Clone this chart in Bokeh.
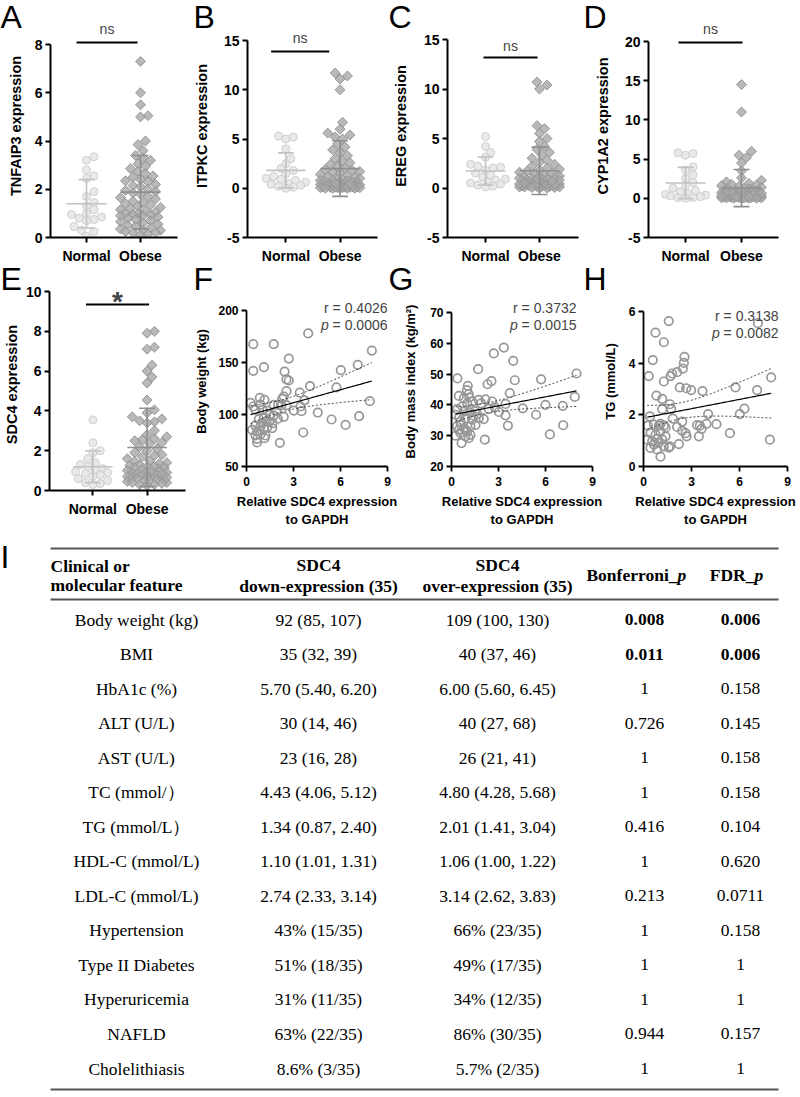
import numpy as np
from bokeh.plotting import figure
from bokeh.layouts import row, column
from bokeh.models import Range1d, FixedTicker, Label
from bokeh.core.properties import value
from bokeh.embed import file_html
from bokeh.resources import INLINE

SANS = "Liberation Sans"
SERIF = "Liberation Serif"

# ---------------------------------------------------------------------------
# Expression data (relative to GAPDH), Normal vs Obese
# ---------------------------------------------------------------------------
groups = ["Normal", "Obese"]

tnfaip3_normal = [3.35, 3.2, 2.8, 2.55, 2.45, 1.9, 1.7, 1.45, 1.3, 1.15, 1.0, 0.95,
                  0.85, 0.8, 0.75, 0.7, 0.45, 0.3, 0.25, 0.05]
tnfaip3_obese = [7.3, 6.0, 5.5, 5.05, 5.0, 4.0, 3.85, 3.6, 3.4, 3.3, 3.2, 3.05, 2.95,
                 2.85, 2.75, 2.65, 2.55, 2.5, 2.4, 2.35, 2.3, 2.2, 2.15, 2.1, 2.0, 1.95,
                 1.9, 1.85, 1.8, 1.7, 1.65, 1.6, 1.5, 1.45, 1.4, 1.35, 1.3, 1.25, 1.2,
                 1.15, 1.1, 1.05, 1.0, 1.0, 0.95, 0.95, 0.9, 0.9, 0.85, 0.8, 0.75, 0.7,
                 0.65, 0.6, 0.55, 0.5, 0.45, 0.4, 0.35, 0.3, 0.3, 0.25, 0.2, 0.2, 0.15, 0.1]

itpkc_normal = [5.3, 5.2, 5.0, 4.0, 3.0, 2.5, 2.0, 1.8, 1.5, 1.2, 1.0, 0.9, 0.8, 0.6,
                0.5, 0.4, 0.3, 0.2, 0.1, 0.0]
itpkc_obese = [11.7, 11.4, 11.1, 10.0, 6.7, 6.0, 5.6, 5.4, 5.2, 5.0, 4.5, 4.2, 3.9, 3.6,
               3.3, 3.0, 2.8, 2.6, 2.4, 2.2, 2.0, 1.9, 1.8, 1.7, 1.6, 1.5, 1.4, 1.3, 1.2,
               1.1, 1.0, 0.95, 0.9, 0.85, 0.8, 0.75, 0.7, 0.65, 0.6, 0.55, 0.5, 0.45, 0.4,
               0.35, 0.3, 0.3, 0.25, 0.25, 0.2, 0.2, 0.15, 0.15, 0.1, 0.1, 0.1, 0.05, 0.05,
               0.05, 0.0, 0.0, 0.0, 0.0, 0.0, 0.05, 0.1, 0.15, 0.2, 0.3, 0.4, 0.5]

ereg_normal = [5.2, 4.2, 3.6, 3.1, 2.4, 2.1, 2.2, 2.0, 1.8, 1.5, 1.3, 1.1, 0.9, 0.8,
               0.6, 0.5, 0.4, 0.3, 0.2, 0.1]
ereg_obese = [10.7, 10.4, 10.0, 6.3, 6.0, 5.5, 5.0, 4.7, 4.2, 3.9, 3.6, 3.3, 3.0, 2.8,
              2.6, 2.4, 2.2, 2.0, 1.9, 1.8, 1.7, 1.6, 1.5, 1.4, 1.3, 1.2, 1.1, 1.0, 0.95,
              0.9, 0.85, 0.8, 0.75, 0.7, 0.65, 0.6, 0.55, 0.5, 0.45, 0.4, 0.35, 0.3, 0.3,
              0.25, 0.25, 0.2, 0.2, 0.15, 0.15, 0.1, 0.1, 0.1, 0.05, 0.05, 0.0, 0.0, 0.2,
              0.3, 0.4, 0.5, 0.6, 0.8, 1.0, 1.2, 0.15, 0.25, 0.35, 0.45, 0.7, 0.9]

cyp1a2_normal = [5.8, 5.7, 5.5, 4.0, 3.6, 3.0, 2.5, 2.0, 1.6, 1.3, 1.0, 0.8, 0.6, 0.5,
                 0.4, 0.3, 0.2, 0.1, 0.0, 0.1]
cyp1a2_obese = [14.5, 11.0, 6.0, 5.5, 5.2, 4.5, 3.5, 2.6, 2.3, 2.1, 1.9, 1.8, 1.7, 1.6,
                1.5, 1.4, 1.3, 1.2, 1.1, 1.0, 0.95, 0.9, 0.85, 0.8, 0.75, 0.7, 0.65, 0.6,
                0.55, 0.5, 0.45, 0.4, 0.35, 0.3, 0.3, 0.25, 0.25, 0.2, 0.2, 0.15, 0.15,
                0.1, 0.1, 0.1, 0.05, 0.05, 0.05, 0.0, 0.0, 0.0, 0.6, 0.5, 0.4, 0.3, 0.2,
                0.15, 0.1, 0.7, 0.8, 0.9, 1.0, 0.35, 0.45, 0.55, 0.65, 0.75, 0.05, 0.0,
                0.2, 0.3]

sdc4_normal = [3.55, 2.4, 2.0, 1.9, 1.6, 1.4, 1.3, 1.2, 1.1, 1.0, 0.95, 0.9, 0.85, 0.8,
               0.7, 0.6, 0.5, 0.4, 0.35, 0.3]
sdc4_obese = [8.0, 7.9, 7.2, 7.1, 6.3, 6.0, 5.7, 5.4, 4.55, 4.05, 3.9, 3.7, 3.6, 3.5,
              3.45, 3.4, 3.0, 2.8, 2.7, 2.6, 2.55, 2.5, 2.4, 2.35, 2.2, 2.1, 2.0, 1.9,
              1.8, 1.75, 1.7, 1.6, 1.5, 1.45, 1.4, 1.3, 1.25, 1.2, 1.15, 1.1, 1.05, 1.0,
              0.95, 0.9, 0.85, 0.8, 0.8, 0.75, 0.7, 0.7, 0.65, 0.6, 0.6, 0.55, 0.5, 0.5,
              0.45, 0.4, 0.4, 0.35, 0.3, 0.3, 0.25, 1.35, 1.15, 0.9, 1.0, 0.65, 1.2, 0.85]

# ---------------------------------------------------------------------------
# Correlation data: SDC4 expression vs clinical traits
# ---------------------------------------------------------------------------
bw_sdc4 = [3.94, 0.43, 1.74, 2.70, 1.11, 0.43, 2.43, 2.55, 2.70, 8.00, 7.10, 6.02, 5.74,
           4.06, 3.40, 2.55, 2.38, 2.28, 3.70, 7.87, 0.26, 0.43, 0.85, 1.15, 0.89, 1.74,
           2.02, 2.21, 2.55, 3.02, 3.45, 3.51, 2.38, 0.57, 1.02, 1.32, 1.49, 1.74, 1.11,
           0.79, 1.28, 1.66, 0.57, 0.89, 1.32, 1.64, 0.36, 0.68, 1.11, 0.57, 0.89, 1.21,
           0.68, 1.15, 0.68, 2.13, 3.62, 4.55, 5.43, 6.32, 7.19, 1.90, 2.00, 1.45, 1.00]
body_weight = [178, 167.6, 167.6, 153.8, 145.5, 142, 141.3, 133.7, 132.7, 161.5, 147.8,
               142.6, 126, 127.2, 121, 122.4, 117.3, 115, 113.5, 112.8, 111.2, 107.7, 116,
               114.1, 109.6, 109.3, 109.3, 108.7, 109, 103.8, 107.7, 103.2, 97.8, 104.5,
               104.5, 103.8, 99.7, 99, 96.8, 95.5, 93.6, 91.7, 89.4, 88.5, 87.8, 86.9,
               85.3, 84, 86.2, 79.8, 80.8, 79.8, 76.6, 77.2, 73.1, 72.8, 82.7, 101.9, 95.2,
               90, 98.4, 103, 96, 93, 92]

bmi_sdc4 = [3.34, 2.70, 3.94, 1.70, 0.38, 7.98, 5.72, 4.04, 2.55, 2.30, 1.04, 0.98, 1.10,
            0.47, 0.79, 1.15, 3.72, 7.87, 1.74, 2.17, 2.60, 1.32, 1.00, 3.45, 6.00, 7.10,
            4.55, 2.38, 2.77, 3.02, 0.36, 0.79, 1.21, 0.26, 5.40, 3.45, 1.74, 2.06, 0.89,
            1.32, 0.57, 3.60, 7.13, 1.21, 1.53, 0.79, 0.47, 1.00, 0.57, 0.26, 6.28, 0.89,
            1.21, 2.13, 0.64, 1.10, 0.70, 1.50, 0.60, 1.40, 0.90, 0.50, 1.90, 0.35, 1.65]
bmi = [58.6, 56.7, 54.3, 51.6, 48.6, 50.2, 48.3, 48.0, 47.7, 46.7, 46.2, 44.8, 43.5, 42.9,
       42.2, 42.4, 43.8, 42.6, 41.6, 41.8, 41.1, 41.1, 40.5, 40.3, 40.0, 39.7, 38.9, 38.7,
       39.2, 37.7, 38.6, 37.8, 37.5, 36.8, 36.8, 36.6, 35.7, 35.4, 35.7, 35.2, 34.6, 33.3,
       33.4, 33.0, 33.5, 32.5, 31.9, 31.4, 30.9, 30.0, 30.4, 29.8, 30.3, 28.7, 27.6, 29.2,
       39.5, 38.0, 33.5, 36.5, 31.8, 36.0, 40.5, 33.0, 37.0]

tg_sdc4 = [1.58, 7.15, 0.75, 1.27, 0.58, 2.56, 2.52, 2.46, 2.10, 1.79, 1.69, 0.33, 1.27,
           2.27, 2.67, 2.98, 3.69, 5.75, 7.10, 7.98, 0.81, 1.17, 1.65, 1.17, 1.73, 6.31,
           6.02, 4.04, 0.40, 1.83, 2.42, 0.27, 0.65, 0.96, 1.27, 1.38, 1.06, 2.10, 2.42,
           2.63, 3.35, 3.63, 3.94, 4.56, 3.52, 2.69, 3.46, 5.40, 7.90, 0.44, 0.75, 1.06,
           1.38, 0.23, 0.54, 0.85, 1.17, 0.65, 0.96, 0.44, 1.27, 1.65, 2.21, 0.85, 1.06, 1.58]
tg = [5.63, 5.55, 5.18, 4.81, 4.12, 4.24, 4.01, 3.79, 3.65, 3.60, 3.50, 3.50, 3.29, 3.06,
      3.03, 2.96, 2.92, 3.06, 2.96, 3.45, 2.74, 2.62, 2.41, 2.22, 2.22, 2.24, 2.03, 2.03,
      1.94, 1.85, 1.74, 1.58, 1.62, 1.58, 1.58, 1.51, 1.65, 1.53, 1.38, 1.29, 1.60, 1.46,
      1.65, 1.64, 1.58, 1.17, 1.17, 1.29, 1.04, 1.29, 1.23, 1.36, 1.17, 1.04, 0.97, 1.06,
      1.04, 0.85, 0.91, 0.72, 0.78, 0.78, 0.87, 0.66, 0.38, 0.73]

# ---------------------------------------------------------------------------
# Clinical table
# ---------------------------------------------------------------------------
features = ["Body weight (kg)", "BMI", "HbA1c (%)", "ALT (U/L)", "AST (U/L)",
            "TC (mmol/）", "TG (mmol/L）", "HDL-C (mmol/L)", "LDL-C (mmol/L)",
            "Hypertension", "Type II Diabetes", "Hyperuricemia", "NAFLD", "Cholelithiasis"]
sdc4_down = ["92 (85, 107)", "35 (32, 39)", "5.70 (5.40, 6.20)", "30 (14, 46)",
             "23 (16, 28)", "4.43 (4.06, 5.12)", "1.34 (0.87, 2.40)", "1.10 (1.01, 1.31)",
             "2.74 (2.33, 3.14)", "43% (15/35)", "51% (18/35)", "31% (11/35)",
             "63% (22/35)", "8.6% (3/35)"]
sdc4_over = ["109 (100, 130)", "40 (37, 46)", "6.00 (5.60, 6.45)", "40 (27, 68)",
             "26 (21, 41)", "4.80 (4.28, 5.68)", "2.01 (1.41, 3.04)", "1.06 (1.00, 1.22)",
             "3.14 (2.62, 3.83)", "66% (23/35)", "49% (17/35)", "34% (12/35)",
             "86% (30/35)", "5.7% (2/35)"]
bonferroni_p = ["0.008", "0.011", "1", "0.726", "1", "1", "0.416", "1", "0.213", "1",
                "1", "1", "0.944", "1"]
fdr_p = ["0.006", "0.006", "0.158", "0.145", "0.158", "0.158", "0.104", "0.620",
         "0.0711", "0.158", "1", "1", "0.157", "1"]
significant_rows = [0, 1]

panel_letters = ["A", "B", "C", "D", "E", "F", "G", "H"]

T95 = 2.0  # two-sided 95% t quantile for ~65 points


# ---------------------------------------------------------------------------
# helpers
# ---------------------------------------------------------------------------
class Geom:
    """Maps page pixels of one panel onto its data ranges."""

    def __init__(self, fig, frame, xref, yref):
        self.fx, self.fy, self.w, self.h = fig
        self.l, self.r, self.t, self.b = frame
        (xv0, xp0), (xv1, xp1) = xref
        (yv0, yp0), (yv1, yp1) = yref
        self.sx = (xp1 - xp0) / (xv1 - xv0)
        self.sy = (yp0 - yp1) / (yv1 - yv0)
        self.x0 = xv0 - (xp0 - self.l) / self.sx
        self.x1 = xv1 + (self.r - xp1) / self.sx
        self.y0 = yv0 - (self.b - yp0) / self.sy
        self.y1 = yv1 + (yp1 - self.t) / self.sy

    def dx(self, px):
        return self.x0 + (px - self.l) / self.sx

    def dy(self, py):
        return self.y1 - (py - self.t) / self.sy


def make_fig(g, shift=0):
    p = figure(width=g.w, height=g.h,
               x_range=Range1d(g.x0, g.x1), y_range=Range1d(g.y0, g.y1),
               toolbar_location=None, output_backend="svg",
               min_border_left=g.l - g.fx, min_border_right=g.fx + g.w - g.r,
               min_border_top=g.t - g.fy, min_border_bottom=g.fy + g.h - g.b)
    p.background_fill_color = None
    p.border_fill_color = None
    p.outline_line_color = None
    p.grid.visible = False
    if shift:
        p.margin = (0, 0, 0, shift)
    return p


def style_axes(p, tick_size, label_size, width):
    for ax in p.axis:
        ax.axis_line_width = width
        ax.axis_line_color = "black"
        ax.major_tick_line_width = width
        ax.major_tick_line_color = "black"
        ax.major_tick_out = 5
        ax.major_tick_in = 0
        ax.minor_tick_line_color = None
        ax.major_label_text_font = SANS
        ax.major_label_text_font_style = "bold"
        ax.major_label_text_font_size = tick_size
        ax.major_label_text_color = "black"
        ax.axis_label_text_font = SANS
        ax.axis_label_text_font_style = "bold"
        ax.axis_label_text_font_size = label_size
        ax.axis_label_text_color = "black"


def swarm_px(vals, sy, step=2.5, min_d=7.0, half=21.0):
    v = np.asarray(vals, float)
    ks = [0.0]
    k = 1
    while k * step <= half:
        ks += [k * step, -k * step]
        k += 1
    px_, py_ = [], []
    out = np.zeros(len(v))
    for i in np.argsort(v, kind="stable"):
        y = v[i] * sy
        best, best_d = 0.0, -1.0
        for x in ks:
            if px_:
                d = float(np.min(np.hypot(np.array(px_) - x, np.array(py_) - y)))
            else:
                d = np.inf
            if d >= min_d:
                best = x
                break
            if d > best_d:
                best, best_d = x, d
        out[i] = best
        px_.append(best)
        py_.append(y)
    return out


# ---------------------------------------------------------------------------
# column scatter panels (A-E)
# ---------------------------------------------------------------------------
strip_panels = [
    dict(gene="TNFAIP3", normal=tnfaip3_normal, obese=tnfaip3_obese, sig="ns",
         yticks=[0, 2, 4, 6, 8], fig=(0, 0, 190, 267), frame=(50, 177, 14, 237),
         cat_px=(86, 140), yref=((0, 237), (8, 44)), bar=(76, 137, 42), sig_y=28,
         lab_standoff=8),
    dict(gene="ITPKC", normal=itpkc_normal, obese=itpkc_obese, sig="ns",
         yticks=[-5, 0, 5, 10, 15], fig=(190, 0, 195, 267), frame=(245, 377, 14, 237),
         cat_px=(284, 339), yref=((-5, 237), (15, 40)), bar=(269, 328, 51), sig_y=37,
         lab_standoff=11),
    dict(gene="EREG", normal=ereg_normal, obese=ereg_obese, sig="ns",
         yticks=[-5, 0, 5, 10, 15], fig=(385, 0, 197, 267), frame=(447, 578, 14, 237),
         cat_px=(485, 539), yref=((-5, 237), (15, 39)), bar=(483, 537, 57), sig_y=45,
         lab_standoff=12),
    dict(gene="CYP1A2", normal=cyp1a2_normal, obese=cyp1a2_obese, sig="ns",
         yticks=[-5, 0, 5, 10, 15, 20], fig=(582, 0, 218, 267), frame=(648, 778, 14, 237),
         cat_px=(685, 741), yref=((-5, 237), (20, 41)), bar=(678, 742, 42), sig_y=28,
         lab_standoff=11),
    dict(gene="SDC4", normal=sdc4_normal, obese=sdc4_obese, sig="*",
         yticks=[0, 2, 4, 6, 8, 10], fig=(0, 267, 190, 263), frame=(47, 185, 278, 490),
         cat_px=(91, 146), yref=((0, 490), (10, 291)), bar=(84, 148, 304), sig_y=301,
         lab_standoff=3),
]


def strip_panel(s):
    g = Geom(s["fig"], s["frame"], ((1, s["cat_px"][0]), (2, s["cat_px"][1])), s["yref"])
    p = make_fig(g)

    nvals = np.asarray(s["normal"], float)
    ovals = np.asarray(s["obese"], float)
    nx = 1 + swarm_px(nvals, g.sy) / g.sx
    ox = 2 + swarm_px(ovals, g.sy) / g.sx
    p.scatter(nx, nvals, marker="circle", size=8, fill_color="#e3e3e3",
              line_color="#cfcfcf", line_width=1, fill_alpha=0.8)
    p.scatter(ox, ovals, marker="square", angle=np.pi / 4, size=7, fill_color="#a8a8a8",
              line_color="#969696", line_width=1, fill_alpha=0.8)

    half_mean = 20 / g.sx
    half_cap = 8 / g.sx
    for cx, vals, col in ((1, nvals, "#c2c2c2"), (2, ovals, "#8f8f8f")):
        m = vals.mean()
        sd = vals.std(ddof=1)
        p.segment(x0=[cx - half_mean, cx - half_cap, cx - half_cap, cx],
                  y0=[m, m + sd, m - sd, m - sd],
                  x1=[cx + half_mean, cx + half_cap, cx + half_cap, cx],
                  y1=[m, m + sd, m - sd, m + sd],
                  line_color=col, line_width=1.6)

    # significance bar
    bx0, bx1, by = s["bar"]
    p.segment(x0=[g.dx(bx0)], y0=[g.dy(by)], x1=[g.dx(bx1)], y1=[g.dy(by)],
              line_color="black", line_width=2)
    mid = g.dx((bx0 + bx1) / 2)
    if s["sig"] == "*":
        p.add_layout(Label(x=mid, y=g.dy(s["sig_y"]), text=s["sig"], text_font=SANS,
                           text_font_size="28px", text_font_style="bold",
                           text_align="center", text_baseline="middle"))
    else:
        p.add_layout(Label(x=mid, y=g.dy(s["sig_y"]), text=s["sig"], text_font=SANS,
                           text_font_size="14px", text_align="center",
                           text_baseline="middle"))

    style_axes(p, "14px", "14.5px", 2)
    p.xaxis.ticker = FixedTicker(ticks=[1, 2])
    p.xaxis.major_label_overrides = {1: groups[0], 2: groups[1]}
    p.xaxis.major_label_standoff = 5
    p.yaxis.ticker = FixedTicker(ticks=s["yticks"])
    p.yaxis.major_label_overrides = {t: str(t) for t in s["yticks"]}
    p.yaxis.bounds = (s["yticks"][0], s["yticks"][-1])
    p.yaxis.major_label_standoff = 3
    p.yaxis.axis_label = f"{s['gene']} expression"
    p.yaxis.axis_label_standoff = s["lab_standoff"]
    return p


# ---------------------------------------------------------------------------
# correlation panels (F-H)
# ---------------------------------------------------------------------------
scatter_panels = [
    dict(x=bw_sdc4, y=body_weight, ylabel="Body weight (kg)",
         yticks=[50, 100, 150, 200], r="0.4026", pval="0.0006",
         fig=(190, 267, 212, 263), frame=(246, 387, 296, 466), yref=((50, 466), (200, 310)),
         text_right=387, r_y=307, p_y=324, lab_standoff=6, shift=190),
    dict(x=bmi_sdc4, y=bmi, ylabel="Body mass index (kg/m²)",
         yticks=[20, 30, 40, 50, 60, 70], r="0.3732", pval="0.0015",
         fig=(385, 267, 227, 263), frame=(451, 592, 296, 466), yref=((20, 466), (70, 312)),
         text_right=576, r_y=307, p_y=324, lab_standoff=9, shift=-17),
    dict(x=tg_sdc4, y=tg, ylabel="TG (mmol/L)",
         yticks=[0, 2, 4, 6], r="0.3138", pval="0.0082",
         fig=(580, 267, 220, 263), frame=(643, 787, 296, 466), yref=((0, 466), (6, 311)),
         text_right=778, r_y=315, p_y=332, lab_standoff=8, shift=-32),
]


def scatter_panel(s):
    fr = s["frame"]
    g = Geom(s["fig"], fr, ((0, fr[0]), (9, fr[1])), s["yref"])
    p = make_fig(g, s["shift"])

    x = np.asarray(s["x"], float)
    y = np.asarray(s["y"], float)
    p.scatter(x, y, marker="circle", size=8.5, fill_color=None, line_color="#979797",
              line_width=1.7)

    # least-squares fit with 95% confidence band of the mean
    slope, icpt = np.polyfit(x, y, 1)
    xs = np.linspace(x.min(), x.max(), 80)
    yhat = icpt + slope * xs
    n = len(x)
    resid = y - (icpt + slope * x)
    se = np.sqrt(np.sum(resid ** 2) / (n - 2))
    sxx = np.sum((x - x.mean()) ** 2)
    band = T95 * se * np.sqrt(1.0 / n + (xs - x.mean()) ** 2 / sxx)
    p.line(xs, yhat, line_color="black", line_width=1.2)
    p.line(xs, yhat + band, line_color="#444444", line_width=1, line_dash="2 2")
    p.line(xs, yhat - band, line_color="#444444", line_width=1, line_dash="2 2")

    xr = g.dx(s["text_right"])
    p.add_layout(Label(x=xr, y=g.dy(s["r_y"]), text=f"r = {s['r']}", text_font=SANS,
                       text_font_size="14px", text_align="right", text_baseline="middle"))
    p_rest = f"= {s['pval']}"
    p.add_layout(Label(x=xr, y=g.dy(s["p_y"]), text=p_rest, text_font=SANS,
                       text_font_size="14px", text_align="right", text_baseline="middle"))
    rest_w = 14 * (0.278 + 0.584 + 0.278 + 0.556 * (len(s["pval"]) - 1) + 0.278)
    p.add_layout(Label(x=xr, y=g.dy(s["p_y"]), x_offset=-rest_w, text="p", text_font=SANS,
                       text_font_size="14px", text_font_style="italic",
                       text_align="right", text_baseline="middle"))

    style_axes(p, "12px", "13px", 1.8)
    p.xaxis.ticker = FixedTicker(ticks=[0, 3, 6, 9])
    p.xaxis.major_label_standoff = 5
    p.xaxis.axis_label = "Relative SDC4 expression\nto GAPDH"
    p.xaxis.axis_label_standoff = 5
    p.yaxis.ticker = FixedTicker(ticks=s["yticks"])
    p.yaxis.bounds = (s["yticks"][0], s["yticks"][-1])
    p.yaxis.major_label_standoff = 3
    p.yaxis.axis_label = s["ylabel"]
    p.yaxis.axis_label_standoff = s["lab_standoff"]
    return p


def blank_canvas(w, h):
    p = figure(width=w, height=h, x_range=Range1d(0, w), y_range=Range1d(h, 0),
               toolbar_location=None, output_backend="svg",
               x_axis_location=None, y_axis_location=None, min_border=0)
    p.background_fill_color = None
    p.border_fill_color = None
    p.outline_line_color = None
    p.grid.visible = False
    return p


# ---------------------------------------------------------------------------
# panel letters (drawn under the transparent panels)
# ---------------------------------------------------------------------------
def letters_panel():
    p = blank_canvas(800, 530)
    p.text(x=[0, 193, 388, 583, 0, 193, 388, 583], y=[16.5] * 4 + [278.5] * 4,
           text=panel_letters, text_font=value(SANS), text_font_size=value("32px"),
           text_baseline="middle", text_align="left", text_color="black")
    return p


# ---------------------------------------------------------------------------
# table (I)
# ---------------------------------------------------------------------------
def table_panel():
    top = 530
    p = blank_canvas(800, 1097 - top)

    def put(xs, ys, texts, style="normal", align="center"):
        p.text(x=xs, y=[v - top for v in ys], text=texts, text_font=value(SERIF),
               text_font_size=value("17.5px"), text_font_style=style,
               text_align=align, text_baseline="middle", text_color="black")

    # rules
    p.segment(x0=[50, 50, 50], x1=[778, 778, 778],
              y0=[548 - top, 599 - top, 1089 - top], y1=[548 - top, 599 - top, 1089 - top],
              line_color="#555555", line_width=2)

    # header
    col_feat, col_down, col_over, col_bonf, col_fdr = 136, 318, 497, 644, 740
    put([50, 50], [565, 584], ["Clinical or", "molecular feature"], "bold", "left")
    put([col_down, col_down, col_over, col_over], [564, 585, 564, 585],
        ["SDC4", "down-expression (35)", "SDC4", "over-expression (35)"], "bold")
    put([677, 754], [574, 574], ["Bonferroni_", "FDR_"], "bold", "right")
    put([677, 754], [574, 574], ["p", "p"], "bold italic", "left")

    # body
    ys = [619 + i * 34.54 for i in range(len(features))]
    put([col_feat] * len(ys), ys, features)
    put([col_down] * len(ys), ys, sdc4_down)
    put([col_over] * len(ys), ys, sdc4_over)
    reg = [i for i in range(len(ys)) if i not in significant_rows]
    put([col_bonf] * len(reg), [ys[i] for i in reg], [bonferroni_p[i] for i in reg])
    put([col_fdr] * len(reg), [ys[i] for i in reg], [fdr_p[i] for i in reg])
    put([col_bonf] * len(significant_rows), [ys[i] for i in significant_rows],
        [bonferroni_p[i] for i in significant_rows], "bold")
    put([col_fdr] * len(significant_rows), [ys[i] for i in significant_rows],
        [fdr_p[i] for i in significant_rows], "bold")

    p.text(x=[0], y=[556.5 - top], text=["I"], text_font=value(SANS),
           text_font_size=value("32px"), text_baseline="middle", text_align="left")
    return p


letters = row([letters_panel()], spacing=0)
row1 = row([strip_panel(s) for s in strip_panels[:4]], spacing=0)
row1.margin = (-530, 0, 0, 0)
row2 = row([scatter_panel(s) for s in scatter_panels], spacing=0)
row_e = row([strip_panel(strip_panels[4])], spacing=0)
row_e.margin = (-263, 0, 0, 0)
row_tab = row([table_panel()], spacing=0)
layout = column([letters, row1, row2, row_e, row_tab], spacing=0)

open("out.html", "w").write(file_html(layout, INLINE, title="SDC4 expression"))
